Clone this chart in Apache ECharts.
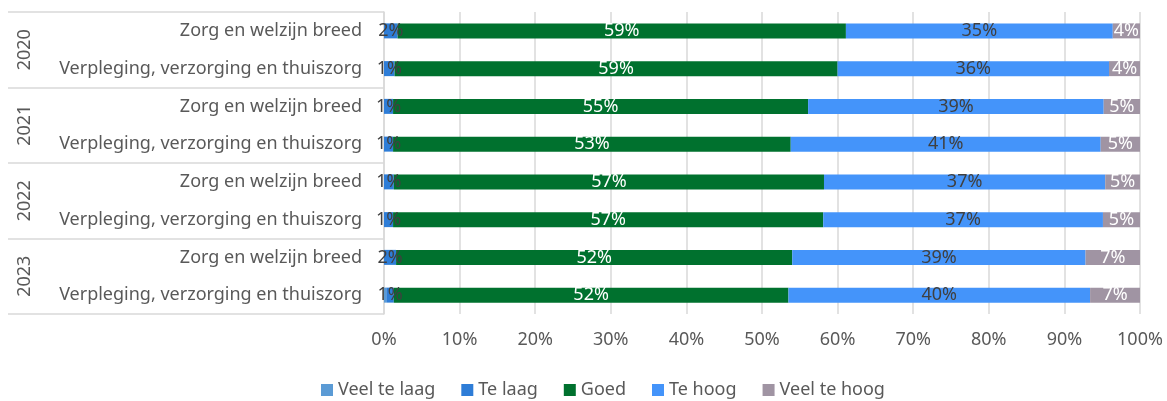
<!DOCTYPE html>
<html>
<head>
<meta charset="utf-8">
<script src="https://cdn.jsdelivr.net/npm/echarts@6/dist/echarts.min.js"></script>
<style>
    html, body { margin: 0; padding: 0; background: #fff; }
    #chart { width: 1167px; height: 401px; }
</style>
</head>
<body>
<div id="chart"></div>
<script>
// categorieen (van boven naar onder)
var sectoren = ['Zorg en welzijn breed', 'Verpleging, verzorging en thuiszorg',
    'Zorg en welzijn breed', 'Verpleging, verzorging en thuiszorg',
    'Zorg en welzijn breed', 'Verpleging, verzorging en thuiszorg',
    'Zorg en welzijn breed', 'Verpleging, verzorging en thuiszorg'];
var jaren = ['2020', '2021', '2022', '2023'];
var xTicks = [0, 10, 20, 30, 40, 50, 60, 70, 80, 90, 100];

// percentages per rij
var veelTeLaag = [0, 0, 0, 0, 0, 0, 0, 0.3];
var teLaag     = [1.8, 1.4, 1.2, 1.2, 1.3, 1.2, 1.6, 1.0];
var goed       = [59.3, 58.6, 54.9, 52.6, 56.9, 56.9, 52.4, 52.2];
var teHoog     = [35.3, 35.9, 39.1, 41.0, 37.2, 37.0, 38.8, 39.9];
var veelTeHoog = [3.6, 4.1, 4.8, 5.2, 4.6, 4.9, 7.2, 6.6];

var font = 'Noto Sans';
var chart = echarts.init(document.getElementById('chart'));

function serie(naam, data, kleur, labelKleur, toonLabel) {
    return {
        name: naam,
        type: 'bar',
        stack: 'totaal',
        barWidth: 15,
        data: data,
        itemStyle: { color: kleur },
        label: {
            show: toonLabel,
            position: 'inside',
            color: labelKleur,
            fontFamily: font,
            fontSize: 18,
            formatter: function (p) { return Math.round(p.value) + '%'; }
        }
    };
}

var option = {
    animation: false,
    grid: { left: 384, right: 27, top: 12, bottom: 87 },
    legend: {
        top: 376,
        left: 316,
        itemWidth: 12,
        itemHeight: 12,
        itemGap: 26,
        icon: 'rect',
        textStyle: { color: '#595959', fontFamily: font, fontSize: 18 },
        data: ['Veel te laag', 'Te laag', 'Goed', 'Te hoog', 'Veel te hoog']
    },
    xAxis: {
        type: 'value',
        min: 0,
        max: 100,
        interval: 10,
        axisLine: { show: false },
        axisTick: { show: false },
        splitLine: { lineStyle: { color: '#D9D9D9', width: 1.5 } },
        axisLabel: {
            margin: 17,
            color: '#595959',
            fontFamily: font,
            fontSize: 18,
            formatter: function (v) { return xTicks.indexOf(v) >= 0 ? v + '%' : ''; }
        }
    },
    yAxis: [
        {
            type: 'category',
            inverse: true,
            data: sectoren,
            axisLine: { lineStyle: { color: '#D9D9D9', width: 1.5 } },
            axisTick: { show: false },
            axisLabel: { margin: 22, color: '#595959', fontFamily: font, fontSize: 18 }
        },
        {
            type: 'category',
            inverse: true,
            position: 'left',
            data: jaren,
            axisLine: { show: false },
            axisTick: { show: true, length: 376, lineStyle: { color: '#D9D9D9', width: 1.5 } },
            axisLabel: { rotate: 90, margin: 350, color: '#595959', fontFamily: font, fontSize: 18 }
        }
    ],
    series: [
        serie('Veel te laag', veelTeLaag, '#5B9BD5', '#404040', false),
        serie('Te laag', teLaag, '#2E7DD7', '#404040', true),
        serie('Goed', goed, '#00712E', '#FFFFFF', true),
        serie('Te hoog', teHoog, '#4494FA', '#404040', true),
        serie('Veel te hoog', veelTeHoog, '#A094A3', '#FFFFFF', true)
    ]
};

chart.setOption(option);
</script>
</body>
</html>
